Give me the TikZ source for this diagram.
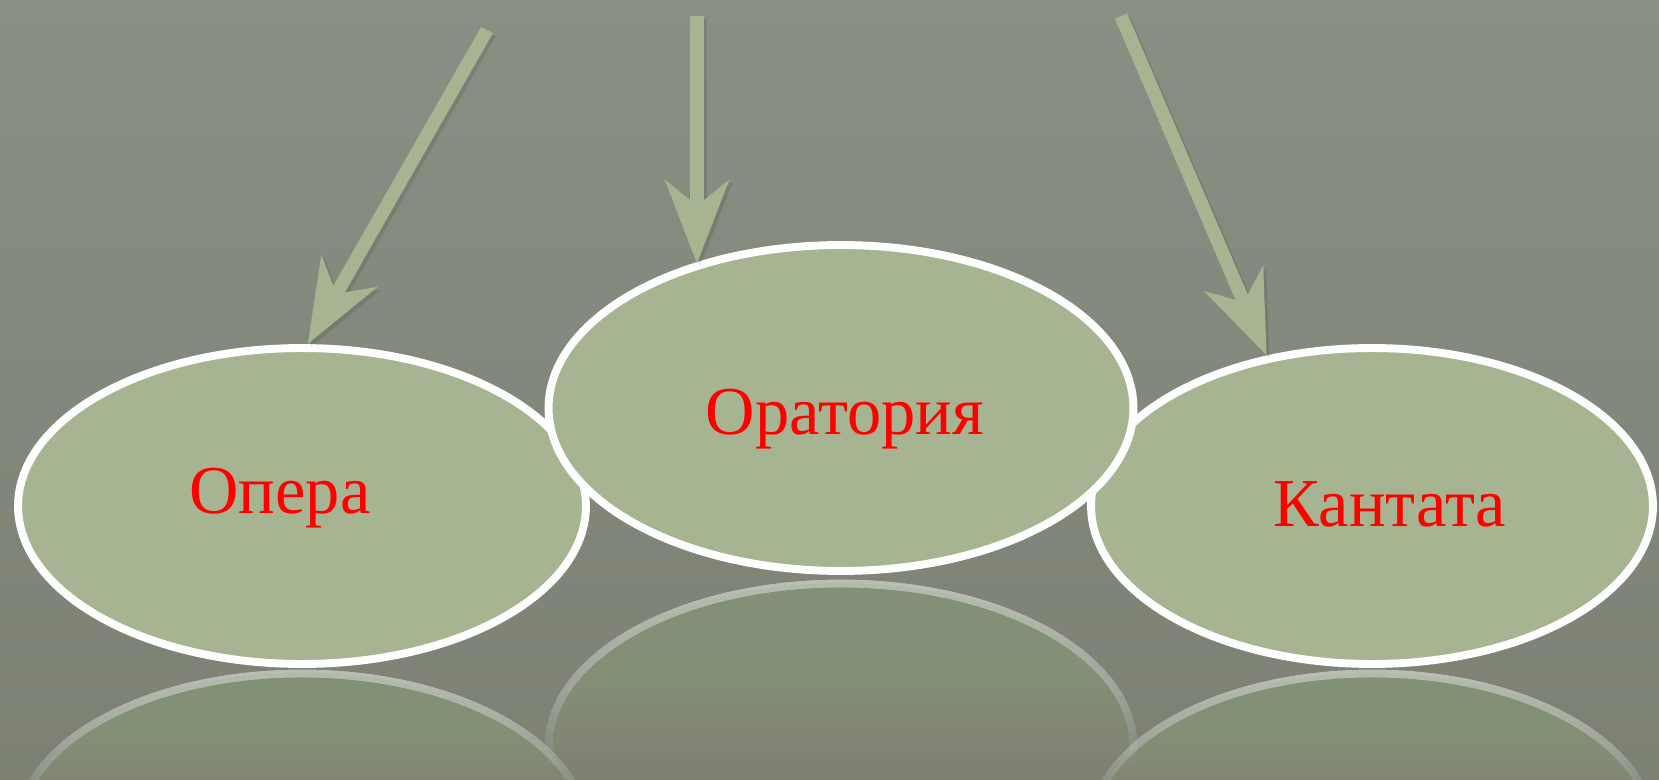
\documentclass[tikz,border=0pt]{standalone}
\usepackage{fontspec}
\setmainfont{Liberation Serif}
\usetikzlibrary{shapes.geometric, arrows.meta, positioning}
\definecolor{bgtop}{HTML}{8A8F84}
\definecolor{bgbot}{HTML}{7C8174}
\definecolor{sage}{HTML}{A6B491}

% faded mirror image: centre x, centre y, x radius, y radius, fade bottom, fade top
\newcommand{\mirrorblob}[6]{%
  \foreach \k in {1,...,24}{
    \pgfmathsetmacro{\ylo}{#5+(#6-#5)*(\k-1)/24}
    \begin{scope}
      \clip (0,\ylo) rectangle (1659,900);
      \path[fill=sage, fill opacity=0.027] (#1,#2) ellipse [x radius=#3, y radius=#4];
      \path[draw=white, draw opacity=0.03, line width=4.5pt] (#1,#2) ellipse [x radius=#3, y radius=#4];
    \end{scope}
  }
}

\begin{document}
\begin{tikzpicture}[x=0.02cm, y=0.02cm]
\tikzset{
bubble/.style={ellipse, draw=white, line width=4.5pt, fill=sage, inner sep=0pt}, % the genre ellipses
genre/.style={text=red, font=\fontsize{39}{39}\selectfont, anchor=base}, % red names
pointer/.style={draw=sage, line width=7.6pt, -{Stealth[length=1.66cm, width=1.26cm, inset=0.5cm]}}, % green arrows
shadowed/.style={draw=black, opacity=0.1, transform canvas={shift={(3,-3)}}}, % soft drop shadow
}
	\useasboundingbox (0,0) rectangle (1659,779);
	\shade[top color=bgtop, bottom color=bgbot] (0,0) rectangle (1659,779);

	% reflections under the ellipses
	\mirrorblob{302}{-52.5}{284}{158}{-25}{108}
	\mirrorblob{841}{32.5}{292.5}{163}{15}{196}
	\mirrorblob{1372}{-52.5}{281}{158}{-25}{108}

	\node[bubble, minimum width=11.36cm, minimum height=6.32cm] (opera) at (302,273) {};
	\node[bubble, minimum width=11.24cm, minimum height=6.32cm] (kantata) at (1372,273) {};
	\node[bubble, minimum width=11.7cm, minimum height=6.52cm] (oratoria) at (841,371) {};

	\node[genre] (t-opera) at (280,266) {Опера};
	\node[genre] (t-oratoria) at (845,345) {Оратория};
	\node[genre] (t-kantata) at (1390,253) {Кантата};

	\coordinate (s1) at (487,749);
	\coordinate (s2) at (697,763);
	\coordinate (s3) at (1121,763);
	\draw[pointer, shadowed] (s1) -- (opera.88);
	\draw[pointer, shadowed] (s2) -- (s2 |- oratoria.136);
	\draw[pointer, shadowed] (s3) -- (kantata.125);
	\draw[pointer] (s1) -- (opera.88);
	\draw[pointer] (s2) -- (s2 |- oratoria.136);
	\draw[pointer] (s3) -- (kantata.125);
\end{tikzpicture}
\end{document}
